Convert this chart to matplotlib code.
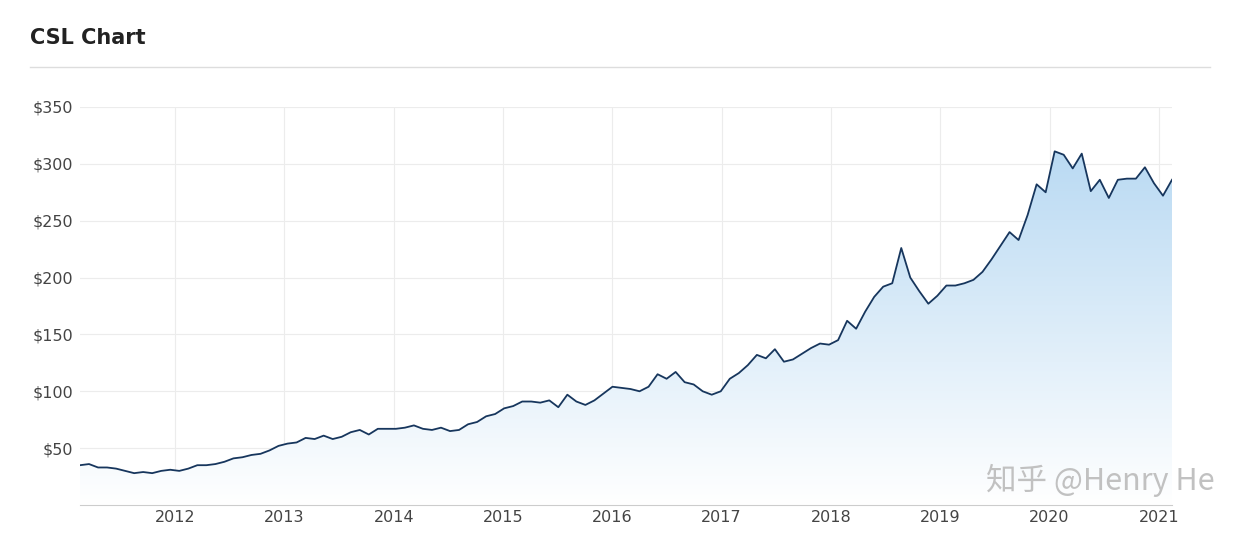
import numpy as np
import matplotlib
matplotlib.use("Agg")
import matplotlib.pyplot as plt
from matplotlib.patches import Polygon

prices = [35, 36, 33, 33, 32, 30, 28, 29, 28, 30, 31, 30, 32, 35, 35, 36, 38, 41, 42, 44, 45, 48,
          52, 54, 55, 59, 58, 61, 58, 60, 64, 66, 62, 67, 67, 67, 68, 70, 67, 66, 68, 65, 66, 71,
          73, 78, 80, 85, 87, 91, 91, 90, 92, 86, 97, 91, 88, 92, 98, 104, 103, 102, 100, 104, 115,
          111, 117, 108, 106, 100, 97, 100, 111, 116, 123, 132, 129, 137, 126, 128, 133, 138, 142,
          141, 145, 162, 155, 170, 183, 192, 195, 226, 200, 188, 177, 184, 193, 193, 195, 198, 205,
          216, 228, 240, 233, 255, 282, 275, 311, 308, 296, 309, 276, 286, 270, 286, 287, 287, 297,
          283, 272, 286]
start_year, end_year = 2011.13, 2021.12
years = np.linspace(start_year, end_year, len(prices))
yticks = [50, 100, 150, 200, 250, 300, 350]
xticks = list(range(2012, 2022))

fig = plt.figure(figsize=(12.45, 5.33), dpi=100)
fig.text(30/1245, 1-38/533, "CSL Chart", fontsize=15, fontweight="bold", color="#222222", va="center")
fig.add_artist(plt.Line2D([30/1245, 1210/1245], [1-67/533]*2, color="#dddddd", lw=1))

ax = fig.add_axes([80/1245, 28/533, 1092/1245, (505-107)/533])
ax.set_xlim(start_year, end_year)
ax.set_ylim(0, 350)

grad = np.linspace(1, 0, 256).reshape(-1, 1)
top = np.array([0.72, 0.85, 0.95]); bot = np.array([1.0, 1.0, 1.0])
img = top[None, None, :] * grad[:, :, None] + bot[None, None, :] * (1 - grad[:, :, None])
im = ax.imshow(img, extent=[start_year, end_year, 0, 320], aspect="auto", zorder=1)
verts = [(start_year, 0)] + list(zip(years, prices)) + [(end_year, 0)]
poly = Polygon(verts, closed=True, facecolor="none", edgecolor="none")
ax.add_patch(poly)
im.set_clip_path(poly)
ax.set_ylim(0, 350)
ax.plot(years, prices, color="#17365d", lw=1.3, zorder=3)

ax.set_yticks(yticks)
ax.set_yticklabels([f"${v}" for v in yticks])
ax.set_xticks(xticks)
ax.grid(True, color="#ececec", lw=0.8, zorder=0)
ax.set_axisbelow(True)
for s in ["top", "right", "left"]:
    ax.spines[s].set_visible(False)
ax.spines["bottom"].set_color("#cccccc")
ax.tick_params(axis="both", length=0, labelsize=11.5, colors="#444444")
ax.tick_params(axis="y", pad=5)

fig.text(1215/1245, 1-480/533, "知乎 @Henry He", fontsize=22, color="#bbbbbb", ha="right", va="center",
         family=["Noto Sans CJK SC", "DejaVu Sans"], alpha=0.9)
fig.savefig("out.png", dpi=100)
